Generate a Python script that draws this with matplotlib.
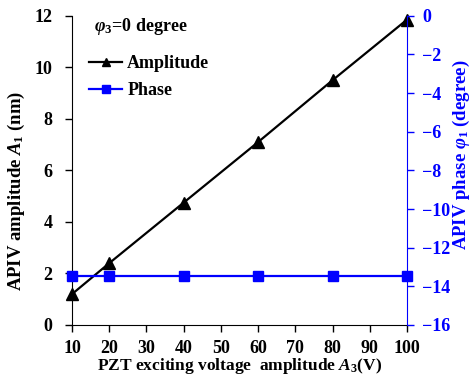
import matplotlib.pyplot as plt
import numpy as np

# data
voltage = [10, 20, 40, 60, 80, 100]
amplitude = [1.2, 2.4, 4.75, 7.1, 9.5, 11.85]
phase = [-13.45, -13.45, -13.45, -13.45, -13.45, -13.45]
xticks = np.arange(10, 101, 10)

plt.rcParams['font.family'] = 'Liberation Serif'
plt.rcParams['font.weight'] = 'bold'
plt.rcParams['mathtext.fontset'] = 'custom'
plt.rcParams['mathtext.it'] = 'Liberation Serif:italic:bold'
plt.rcParams['mathtext.rm'] = 'Liberation Serif:bold'

fs = 13

fig = plt.figure(figsize=(4.71, 3.77), dpi=100)
ax = fig.add_axes([0.153, 0.138, 0.711, 0.82])
ax2 = ax.twinx()

l1, = ax.plot(voltage, amplitude, color='black', lw=1.6, marker='^', ms=8,
              label='Amplitude', clip_on=False, zorder=3)
l2, = ax2.plot(voltage, phase, color='blue', lw=1.6, marker='s', ms=6.5,
               label='Phase', clip_on=False, zorder=3)

ax.set_xlim(10, 100)
ax.set_ylim(0, 12)
ax2.set_ylim(-16, 0)
ax.set_xticks(xticks)
ax.set_yticks(np.arange(0, 13, 2))
ax2.set_yticks(np.arange(-16, 1, 2))

ax.spines['top'].set_visible(False)
ax2.spines['top'].set_visible(False)
ax.spines['right'].set_visible(False)
ax2.spines['left'].set_visible(False)
ax2.spines['bottom'].set_visible(False)
ax2.spines['right'].set_color('blue')

ax.tick_params(axis='both', labelsize=fs, direction='out', length=5, width=1)
ax.tick_params(axis='x', pad=6)
ax.tick_params(axis='y', pad=9)
ax2.tick_params(axis='y', labelsize=fs, direction='out', length=5, width=1,
                colors='blue', pad=6)

ax.set_xlabel('PZT exciting voltage  amplitude $A_3$(V)', fontsize=12.5,
              fontweight='bold')
ax.xaxis.set_label_coords(0.5, -0.101)
ax.set_ylabel('APIV amplitude $A_1$ (nm)', fontsize=13.5, fontweight='bold')
ax.yaxis.set_label_coords(-0.134, 0.435)
ax2.set_ylabel(r'APIV phase $\varphi_1$ (degree)', fontsize=13.5,
               fontweight='bold', color='blue')
ax2.yaxis.set_label_coords(1.131, 0.55)

ax.text(0.065, 0.964, r'$\varphi_3$=0 degree', transform=ax.transAxes,
        fontsize=fs, fontweight='bold', va='center')
ax.legend(handles=[l1, l2], loc='upper left', bbox_to_anchor=(0.003, 0.926),
          frameon=False, fontsize=fs, handlelength=1.8, handletextpad=0.3,
          labelspacing=0.55, markerscale=0.8)

fig.savefig('out.png', dpi=100)
